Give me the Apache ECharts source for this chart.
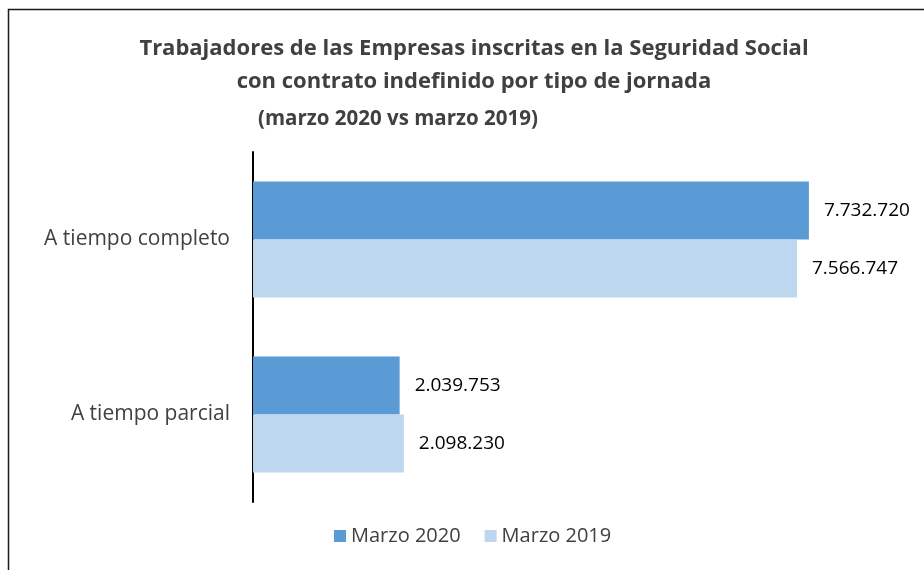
<!DOCTYPE html>
<html>
<head>
<meta charset="utf-8">
<script src="https://cdn.jsdelivr.net/npm/echarts@6/dist/echarts.min.js"></script>
<style>
html,body{margin:0;padding:0;background:#fff;}
#chart{width:924px;height:570px;}
</style>
</head>
<body>
<div id="chart"></div>
<script>
const categories = ['A tiempo completo', 'A tiempo parcial'];
const seriesNames = ['Marzo 2020', 'Marzo 2019'];
const marzo2020 = [7732720, 2039753];
const marzo2019 = [7566747, 2098230];

function fmt(v) {
  return String(v).replace(/\B(?=(\d{3})+(?!\d))/g, '.');
}

const chart = echarts.init(document.getElementById('chart'));
chart.setOption({
  animation: false,
  backgroundColor: '#ffffff',
  graphic: [{
    type: 'rect',
    shape: { x: 8.5, y: 9.5, width: 1000, height: 700 },
    style: { fill: 'none', stroke: '#1a1a1a', lineWidth: 1.5 },
    silent: true
  }],
  title: [{
    text: 'Trabajadores de las Empresas inscritas en la Seguridad Social\ncon contrato indefinido por tipo de jornada',
    left: 469, top: 27, textAlign: 'center',
    textStyle: { fontFamily: 'Open Sans', fontWeight: 'bold', fontSize: 22, color: '#404040', lineHeight: 33 }
  }, {
    text: '(marzo 2020 vs marzo 2019)',
    left: 253, top: 104,
    textStyle: { fontFamily: 'Open Sans', fontWeight: 'bold', fontSize: 20.5, color: '#404040' }
  }],
  legend: {
    bottom: 19, left: 329,
    itemWidth: 12, itemHeight: 12, itemGap: 24,
    icon: 'rect',
    textStyle: { fontFamily: 'Open Sans', fontSize: 20, color: '#404040' },
    data: seriesNames
  },
  grid: { left: 253, top: 152, width: 647, height: 350, containLabel: false },
  xAxis: {
    type: 'value', min: 0, max: 9000000,
    show: false
  },
  yAxis: {
    type: 'category', data: categories, inverse: true,
    axisLine: { show: true, lineStyle: { color: '#000', width: 2 } },
    axisTick: { show: false },
    axisLabel: { margin: 23, fontFamily: 'Open Sans', fontSize: 21, color: '#404040' }
  },
  series: [{
    name: seriesNames[0], type: 'bar', data: marzo2020,
    barWidth: 58, barGap: '0%',
    itemStyle: { color: '#5b9bd5' },
    label: { show: true, position: 'right', distance: 15, formatter: p => fmt(p.value),
      fontFamily: 'Open Sans', fontSize: 19, color: '#000' }
  }, {
    name: seriesNames[1], type: 'bar', data: marzo2019,
    barWidth: 58, barGap: '0%',
    itemStyle: { color: '#bdd7ee' },
    label: { show: true, position: 'right', distance: 15, formatter: p => fmt(p.value),
      fontFamily: 'Open Sans', fontSize: 19, color: '#000' }
  }]
});
</script>
</body>
</html>
